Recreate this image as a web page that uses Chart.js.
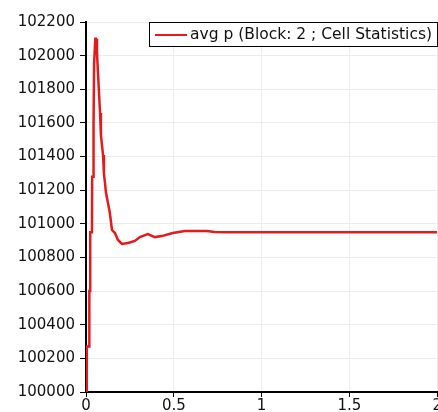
<!DOCTYPE html>
<html>
<head>
<meta charset="utf-8">
<script src="https://cdn.jsdelivr.net/npm/chart.js@4/dist/chart.umd.min.js"></script>
<style>
html,body{margin:0;padding:0;background:#fff;overflow:hidden;}
#wrap{width:442px;height:412px;position:relative;}
</style>
</head>
<body>
<div id="wrap"><canvas id="c"></canvas></div>
<script>
const seriesLabel = "avg p (Block: 2 ; Cell Statistics)";
const times = [0, 0.004, 0.005, 0.018, 0.019, 0.023, 0.024, 0.034, 0.035, 0.040, 0.041, 0.045, 0.046, 0.051, 0.053, 0.057, 0.0625, 0.068, 0.080, 0.085, 0.097, 0.102, 0.114, 0.125, 0.136, 0.148, 0.165, 0.182, 0.205, 0.239, 0.278, 0.307, 0.352, 0.392, 0.432, 0.494, 0.563, 0.688, 0.733, 0.8, 1.0, 1.5, 2.0];
const pressure = [100000, 100000, 100270, 100270, 100600, 100600, 100950, 100950, 101280, 101280, 101600, 101600, 101950, 101950, 102100, 102100, 102021, 101902, 101659, 101528, 101409, 101302, 101183, 101124, 101064, 100963, 100945, 100904, 100880, 100886, 100898, 100921, 100939, 100921, 100927, 100945, 100957, 100957, 100951, 100950, 100950, 100950, 100950];
const xTicks = [0, 0.5, 1, 1.5, 2];
const yMin = 100000, yMax = 102200, yStep = 200;

const FONT = "DejaVu Sans";

const legendPlugin = {
  id: 'innerLegend',
  afterDraw(chart) {
    const ctx = chart.ctx;
    const ds = chart.data.datasets[0];
    ctx.save();
    ctx.font = "15.5px '" + FONT + "'";
    const tw = ctx.measureText(ds.label).width;
    const x0 = 149, y0 = 22, h = 24;
    const w = 6 + 32 + 3 + tw + 5;
    ctx.fillStyle = '#fff';
    ctx.fillRect(x0, y0, w, h);
    ctx.strokeStyle = '#000';
    ctx.lineWidth = 1;
    ctx.strokeRect(x0 + 0.5, y0 + 0.5, w, h);
    ctx.strokeStyle = ds.borderColor;
    ctx.lineWidth = 2;
    ctx.beginPath();
    ctx.moveTo(x0 + 6, y0 + h / 2 + 1);
    ctx.lineTo(x0 + 38, y0 + h / 2 + 1);
    ctx.stroke();
    ctx.fillStyle = '#111';
    ctx.textBaseline = 'middle';
    ctx.fillText(ds.label, x0 + 41, y0 + h / 2 + 1);
    ctx.restore();
  }
};

new Chart(document.getElementById('c'), {
  type: 'line',
  data: {
    datasets: [{
      label: seriesLabel,
      data: times.map((t, i) => ({x: t, y: pressure[i]})),
      borderColor: '#e41a1c',
      borderWidth: 2.5,
      pointRadius: 0,
      tension: 0,
      fill: false
    }]
  },
  options: {
    responsive: true,
    maintainAspectRatio: false,
    animation: false,
    layout: {padding: {top: 22, left: 0, right: 0, bottom: 0}},
    plugins: {legend: {display: false}, tooltip: {enabled: false}},
    scales: {
      x: {
        type: 'linear',
        min: 0, max: 2,
        afterBuildTicks: s => { s.ticks = xTicks.map(v => ({value: v})); },
        afterFit: s => { s.height = 20; },
        ticks: {
          color: '#111', font: {family: FONT, size: 15}, padding: 0,
          maxRotation: 0, autoSkip: false,
          callback: v => String(v)
        },
        grid: {color: '#ececec', tickColor: '#000', tickLength: 5, lineWidth: 1},
        border: {color: '#000', width: 2}
      },
      y: {
        min: yMin, max: yMax,
        ticks: {
          stepSize: yStep, color: '#111', font: {family: FONT, size: 15}, padding: 5,
          autoSkip: false, callback: v => String(v)
        },
        afterFit: s => { s.width = 86; },
        grid: {color: '#ececec', tickColor: '#000', tickLength: 6, lineWidth: 1},
        border: {color: '#000', width: 2}
      }
    }
  },
  plugins: [legendPlugin]
});
</script>
</body>
</html>
